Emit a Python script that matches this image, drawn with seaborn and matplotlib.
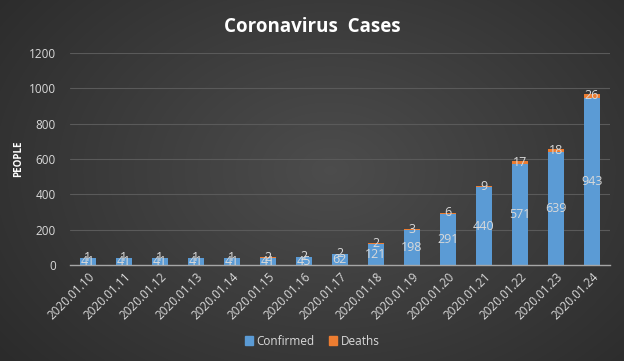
import matplotlib

matplotlib.use("Agg")
import matplotlib.pyplot as plt
import numpy as np
import pandas as pd
import seaborn as sns
from matplotlib.patches import Patch

dates = ["2020.01.10", "2020.01.11", "2020.01.12", "2020.01.13", "2020.01.14",
         "2020.01.15", "2020.01.16", "2020.01.17", "2020.01.18", "2020.01.19",
         "2020.01.20", "2020.01.21", "2020.01.22", "2020.01.23", "2020.01.24"]
confirmed = [41, 41, 41, 41, 41, 41, 45, 62, 121, 198, 291, 440, 571, 639, 943]
deaths = [1, 1, 1, 1, 1, 2, 2, 2, 2, 3, 6, 9, 17, 18, 26]

df = pd.DataFrame({"date": dates, "Confirmed": confirmed, "Deaths": deaths})
df["total"] = df["Confirmed"] + df["Deaths"]

BLUE = "#5B9BD5"
ORANGE = "#ED7D31"
TXT = "#D9D9D9"

sns.set_theme(style="dark")
plt.rcParams["font.family"] = ["Open Sans", "DejaVu Sans"]

fig = plt.figure(figsize=(6.24, 3.61), dpi=100)

# radial dark background
bg = fig.add_axes([0, 0, 1, 1], zorder=-10)
yy, xx = np.mgrid[0:361, 0:624]
r = np.sqrt(((xx - 330) / 420) ** 2 + ((yy - 170) / 300) ** 2)
shade = np.clip(0.30 - 0.13 * r, 0.14, 0.30)
bg.imshow(np.dstack([shade] * 3), aspect="auto", extent=[0, 1, 0, 1])
bg.axis("off")

ax = fig.add_axes([0.112, 0.266, 0.865, 0.587])
ax.set_facecolor("none")

sns.barplot(data=df, x="date", y="total", color=ORANGE, width=0.45,
            saturation=1, linewidth=0, ax=ax)
sns.barplot(data=df, x="date", y="Confirmed", color=BLUE, width=0.45,
            saturation=1, linewidth=0, ax=ax)

for i, (c, d) in enumerate(zip(confirmed, deaths)):
    ax.text(i, c / 2, str(c), ha="center", va="center", color=TXT, fontsize=9)
    ax.text(i, c + d / 2 + 1, str(d), ha="center", va="center", color=TXT,
            fontsize=9)

ax.set_ylim(0, 1200)
ax.set_yticks(range(0, 1201, 200))
ax.set_xlim(-0.5, len(dates) - 0.5)
ax.grid(axis="y", color="#5a5a5a", linewidth=0.8)
ax.grid(axis="x", visible=False)
ax.set_axisbelow(True)
for s in ["top", "right", "left"]:
    ax.spines[s].set_visible(False)
ax.spines["bottom"].set_color("#a6a6a6")
ax.spines["bottom"].set_linewidth(1)

ax.tick_params(axis="y", colors=TXT, labelsize=8.5, length=0, pad=10)
ax.tick_params(axis="x", colors=TXT, labelsize=8.5, length=0, pad=4)
plt.setp(ax.get_xticklabels(), rotation=45, ha="right", rotation_mode="anchor")
ax.set_xlabel("")
ax.set_ylabel("PEOPLE", color="white", fontsize=7, fontweight="bold")
ax.yaxis.set_label_coords(-0.085, 0.5)

fig.text(0.5, 0.925, "Coronavirus  Cases", ha="center", va="center",
         color="white", fontsize=13.5, fontweight="bold")

handles = [Patch(color=BLUE, label="Confirmed"), Patch(color=ORANGE, label="Deaths")]
fig.legend(handles=handles, loc="center", bbox_to_anchor=(0.5, 0.055), ncol=2,
           frameon=False, fontsize=8.5, labelcolor=TXT, handlelength=0.7,
           handleheight=0.7, handletextpad=0.3, columnspacing=1.2)

fig.savefig("out.png", dpi=100)
